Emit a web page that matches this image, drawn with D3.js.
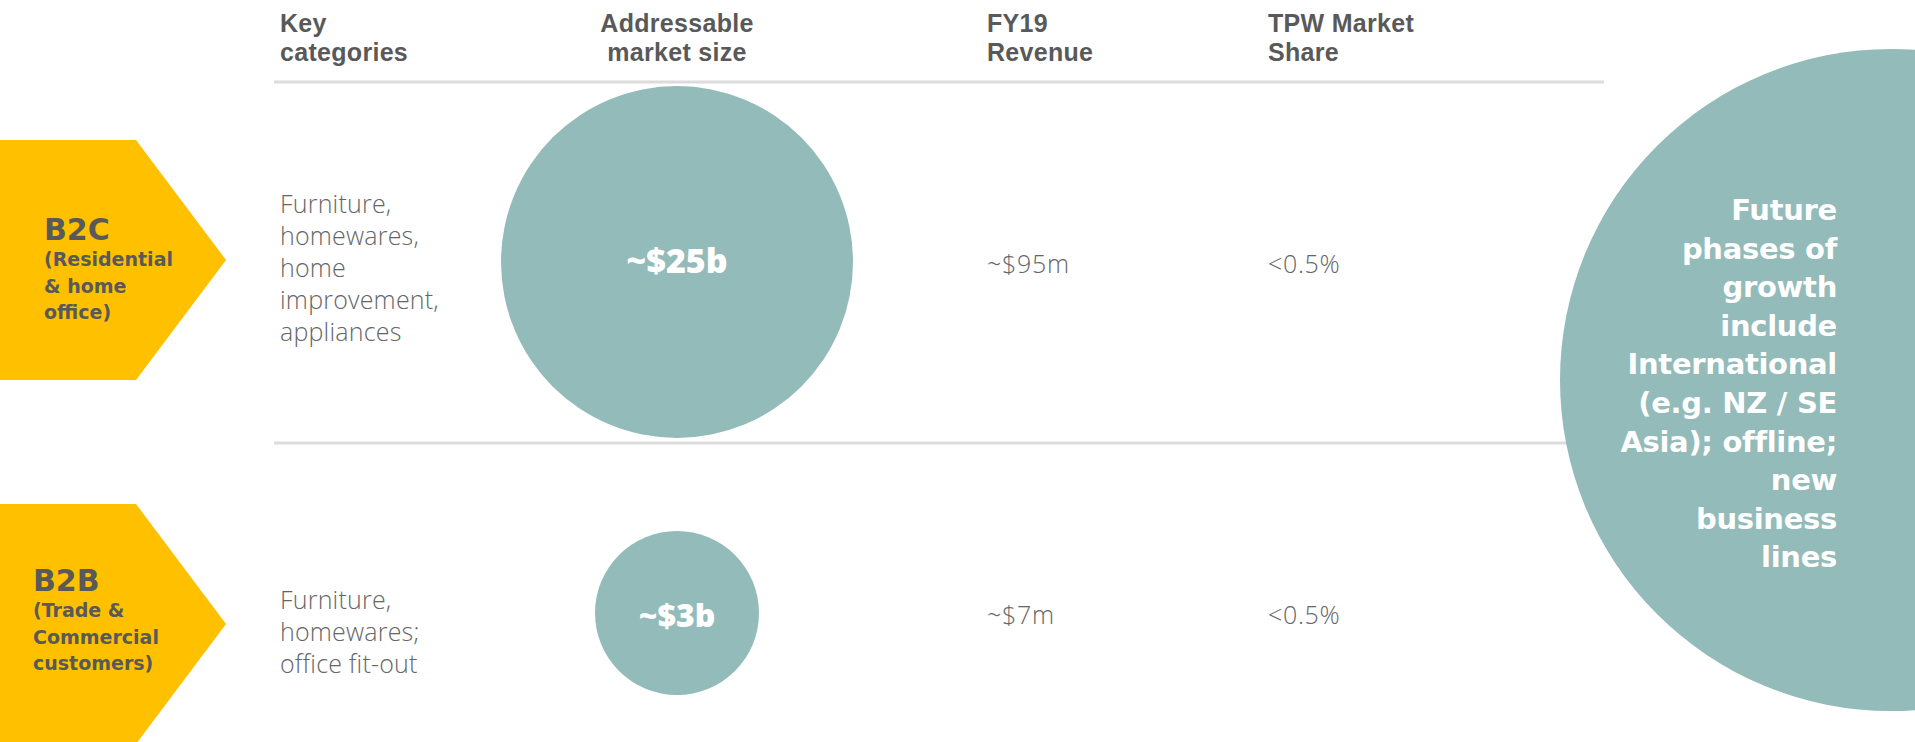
<!DOCTYPE html>
<html>
<head>
<meta charset="utf-8">
<script src="https://cdn.jsdelivr.net/npm/d3@7"></script>
<style>
  html, body { margin: 0; padding: 0; background: #fff; }
  svg { display: block; }
</style>
</head>
<body>
<svg id="main"></svg>
<script>
//--------data----------
const segments = ['B2C', 'B2B'];
const segmentNotes = [
  ['(Residential', '& home', 'office)'],
  ['(Trade &', 'Commercial', 'customers)']
];
const keyCategories = [
  ['Furniture,', 'homewares,', 'home', 'improvement,', 'appliances'],
  ['Furniture,', 'homewares;', 'office fit-out']
];
const marketSize = [25, 3];              // $b
const marketLabels = ['~$25b', '~$3b'];
const revenueLabels = ['~$95m', '~$7m'];
const shareLabels = ['<0.5%', '<0.5%'];
const headers = [
  ['Key', 'categories'],
  ['Addressable', 'market size'],
  ['FY19', 'Revenue'],
  ['TPW Market', 'Share']
];
const futureLines = ['Future', 'phases of', 'growth', 'include', 'International',
  '(e.g. NZ / SE', 'Asia); offline;', 'new', 'business', 'lines'];

//--------code----------
const width = 1915, height = 742;
const teal = '#93bbb9', gold = '#ffc000', dark = '#595959', light = '#666666';
const boldFont = '"Open Sans", "Liberation Sans", sans-serif';
const headFont = '"Liberation Sans", Arial, sans-serif';
const wideFont = '"DejaVu Sans", sans-serif';

let svg = d3.select('#main')
  .attr('width', width)
  .attr('height', height);

// row centres (circles / values) and chevron centres
let rowY = d3.scalePoint().domain(segments).range([262, 613]);
let chevY = d3.scalePoint().domain(segments).range([260, 624]);
let labelX = d3.scalePoint().domain(segments).range([44, 33]);
// columns: key categories, market size, revenue, share
let colX = d3.scaleOrdinal().domain(d3.range(4)).range([280, 677, 987, 1268]);
let sr = d3.scaleLinear().domain([3, 25]).range([82, 176]);

// grid lines
svg.append('line')
  .attr('x1', 274).attr('x2', 1604)
  .attr('y1', 82).attr('y2', 82)
  .attr('stroke', '#dcdcdc').attr('stroke-width', 3);
svg.append('line')
  .attr('x1', 274).attr('x2', 1600)
  .attr('y1', 443).attr('y2', 443)
  .attr('stroke', '#dcdcdc').attr('stroke-width', 3);

// headers
let hdr = svg.selectAll('.hdr')
  .data(headers)
  .join('text')
  .attr('class', 'hdr')
  .attr('x', (d, i) => colX(i))
  .attr('text-anchor', (d, i) => i === 1 ? 'middle' : 'start')
  .style('font-family', headFont)
  .style('font-weight', 700)
  .style('font-size', '25px')
  .style('letter-spacing', '0.3px')
  .style('fill', dark);
hdr.selectAll('tspan')
  .data(d => d)
  .join('tspan')
  .attr('x', function(){ return d3.select(this.parentNode).attr('x'); })
  .attr('y', (d, i) => 32 + i * 29)
  .text(d => d);

// chevrons
let chevron = d3.line();
let rows = svg.selectAll('.row')
  .data(segments)
  .join('g')
  .attr('class', 'row');

rows.append('path')
  .attr('d', d => {
    let c = chevY(d);
    return chevron([[0, c - 120], [136, c - 120], [226, c], [136, c + 120], [0, c + 120]]) + 'Z';
  })
  .attr('fill', gold);

rows.append('text')
  .attr('x', d => labelX(d))
  .attr('y', d => rowY(d) - 22)
  .style('font-family', wideFont)
  .style('font-weight', 700)
  .style('font-size', '30px')
  .style('fill', dark)
  .text(d => d);

rows.append('text')
  .style('font-family', wideFont)
  .style('font-weight', 700)
  .style('font-size', '19px')
  .style('fill', dark)
  .selectAll('tspan')
  .data((d, i) => segmentNotes[i].map(t => ({t, y: rowY(d), x: labelX(d)})))
  .join('tspan')
  .attr('x', d => d.x)
  .attr('y', (d, i) => d.y + 4 + i * 26.5)
  .text(d => d.t);

// key categories
rows.append('text')
  .style('font-family', '"Open Sans", "Liberation Sans", sans-serif')
  .style('font-weight', 300)
  .style('font-size', '25px')
  .style('letter-spacing', '0.2px')
  .style('fill', light)
  .selectAll('tspan')
  .data((d, i) => keyCategories[i].map(t => ({t, c: chevY(d) + 8, n: keyCategories[i].length})))
  .join('tspan')
  .attr('x', colX(0))
  .attr('y', (d, i) => d.c - (d.n - 1) * 16 + 9 + i * 32)
  .text(d => d.t);

// market size bubbles
rows.append('circle')
  .attr('cx', colX(1))
  .attr('cy', d => rowY(d))
  .attr('r', (d, i) => sr(marketSize[i]))
  .attr('fill', teal);

rows.append('text')
  .attr('x', colX(1))
  .attr('y', (d, i) => rowY(d) + (i === 0 ? 11 : 14))
  .attr('text-anchor', 'middle')
  .style('font-family', boldFont)
  .style('font-weight', 800)
  .style('font-size', (d, i) => i === 0 ? '34px' : '32px')
  .style('fill', '#fff')
  .text((d, i) => marketLabels[i]);

// revenue and share
rows.append('text')
  .attr('x', colX(2))
  .attr('y', d => rowY(d) + 11)
  .style('font-family', '"Open Sans", sans-serif')
  .style('font-weight', 300)
  .style('font-size', '25px')
  .style('letter-spacing', '0.7px')
  .style('fill', light)
  .text((d, i) => revenueLabels[i]);

rows.append('text')
  .attr('x', colX(3))
  .attr('y', d => rowY(d) + 11)
  .style('font-family', '"Open Sans", sans-serif')
  .style('font-weight', 300)
  .style('font-size', '25px')
  .style('letter-spacing', '0.7px')
  .style('fill', light)
  .text((d, i) => shareLabels[i]);

// future growth bubble
svg.append('circle')
  .attr('cx', 1891)
  .attr('cy', 380)
  .attr('r', 331)
  .attr('fill', teal);

svg.append('text')
  .attr('text-anchor', 'end')
  .style('font-family', wideFont)
  .style('font-weight', 700)
  .style('font-size', '29px')
  .style('letter-spacing', '-0.3px')
  .style('fill', '#fff')
  .selectAll('tspan')
  .data(futureLines)
  .join('tspan')
  .attr('x', 1837)
  .attr('y', (d, i) => 220 + i * 38.6)
  .text(d => d);
</script>
</body>
</html>
